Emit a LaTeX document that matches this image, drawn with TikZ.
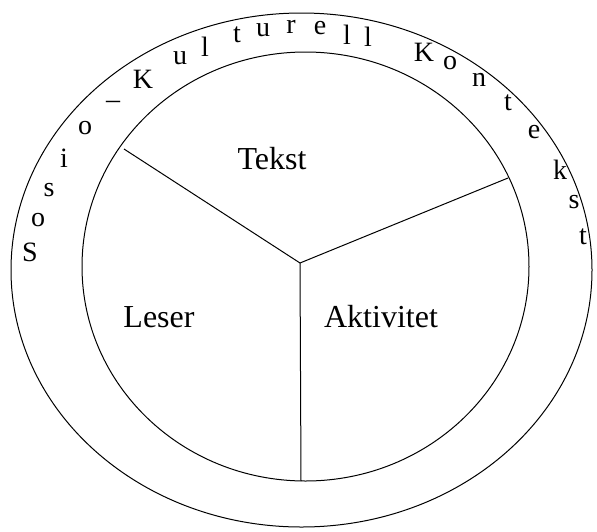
\documentclass[tikz,border=0pt]{standalone}
\usepackage{fontspec}
\setmainfont{Liberation Serif}
\usetikzlibrary{positioning}

\begin{document}
\begin{tikzpicture}[
    x=1pt,y=-1pt,
    ring/.style={line width=1pt},
    spoke/.style={line width=1pt},
    part/.style={font=\fontsize{32}{38}\selectfont},
    letter/.style={font=\fontsize{28}{32}\selectfont,inner sep=0pt},
  ]
  \useasboundingbox (0,0) rectangle (597,531);

  % Context ring and inner circle
  \draw[ring] (301.5,270) ellipse [x radius=290.5, y radius=257];
  \draw[ring] (305.5,266.5) ellipse [x radius=223.5, y radius=214.5];

  % Three sectors
  \coordinate (hub) at (300,263);
  \coordinate (tl)  at (124,149);
  \coordinate (tr)  at (508,178);
  \coordinate (bot) at (301,481);
  \foreach \e in {tl,tr,bot}
    \draw[spoke] (hub) -- (\e);

  \node[part] (tekst) at (272,159) {Tekst};
  \node[part] (leser) at (159,317) {Leser};
  \node[part] (aktiv) at (381,317) {Aktivitet};

  % Letters along the ring
  \foreach \c/\x/\y [count=\i] in {S/30/252, o/38/220, s/49/190, i/64/158,
      o/85/128, \textendash/113/105, K/143/79, u/180/58, l/205/47, t/237/35,
      u/263/30, r/291/27, e/320/28, l/347/35, l/368/37, K/424/52, o/450/63,
      n/479/80, t/508/103, e/534/132, k/560/170, s/574/202, t/583/237}
    \node[letter] (c\i) at (\x,\y) {\c};
\end{tikzpicture}
\end{document}
